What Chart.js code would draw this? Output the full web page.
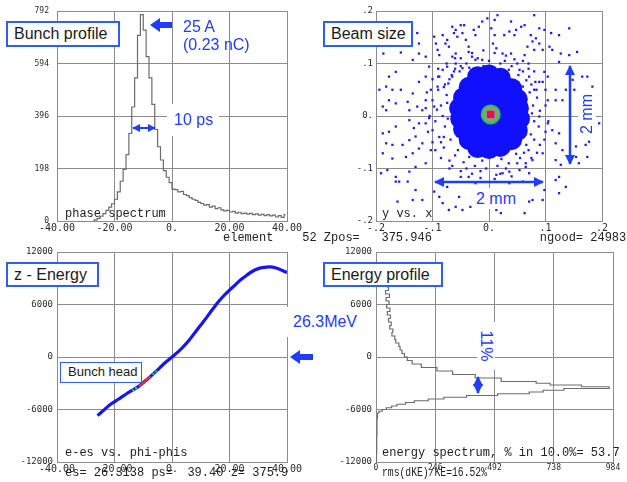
<!DOCTYPE html>
<html>
<head>
<meta charset="utf-8">
<script src="https://cdn.jsdelivr.net/npm/chart.js@4.4.0/dist/chart.umd.min.js"></script>
<style>
  html, body { margin: 0; padding: 0; background: #fff; }
  #wrap { position: relative; width: 627px; height: 482px; overflow: hidden; }
  canvas { position: absolute; }
  svg { position: absolute; left: 0; top: 0; }
  .box { position: absolute; box-sizing: border-box; border: 2px solid #2f5bff; background: #fff;
         font-family: "Liberation Sans", Arial, sans-serif; font-size: 16px; color: #1a1a1a;
         padding-left: 6px; white-space: nowrap; }
  .blue { position: absolute; color: #1f3dff; font-family: "Liberation Sans", Arial, sans-serif;
          font-size: 16px; white-space: nowrap; }
  .mono { position: absolute; font-family: "Liberation Mono", monospace; font-size: 12px;
          line-height: 14px; color: #222; white-space: pre; }
</style>
</head>
<body>
<div id="wrap">
  <canvas id="profileChart" width="310" height="240" style="left:0;top:0"></canvas>
  <canvas id="beamChart" width="303" height="240" style="left:310px;top:0"></canvas>
  <canvas id="zEnergyChart" width="310" height="242" style="left:0;top:240px"></canvas>
  <canvas id="spectrumChart" width="317" height="242" style="left:310px;top:240px"></canvas>

  <div class="mono" style="left:65px;top:207px">phase spectrum</div>
  <div class="mono" style="left:382px;top:207px">y vs. x</div>
  <div class="mono" style="left:223px;top:231px">element    52 Zpos=   375.946               ngood= 24983</div>
  <div class="mono" style="left:65px;top:446px">e-es vs. phi-phis</div>
  <div class="mono" style="left:65px;top:466px">es= 26.3138 ps=  39.40 z= 375.9</div>
  <div class="mono" style="left:382px;top:446px">energy spectrum, % in 10.0%= 53.7</div>
  <div class="mono" style="left:382px;top:466px;transform:scaleX(0.81);transform-origin:left top">rms(dKE)/KE=16.52%</div>

  <div class="box" style="left:6px;top:21px;width:114px;height:26px;line-height:22px">Bunch profile</div>
  <div class="box" style="left:323px;top:21px;width:90px;height:26px;line-height:22px">Beam size</div>
  <div class="box" style="left:6px;top:262px;width:93px;height:25px;line-height:21px">z - Energy</div>
  <div class="box" style="left:323px;top:262px;width:120px;height:25px;line-height:21px">Energy profile</div>
  <div class="box" style="left:60px;top:362px;width:82px;height:21px;line-height:18px;font-size:13px;border-width:1.5px;padding-left:7px">Bunch head</div>

  <div class="blue" style="left:183px;top:18px;line-height:18px">25 A</div>
  <div class="blue" style="left:183px;top:36px;line-height:18px">(0.23 nC)</div>
  <div class="blue" style="left:167px;top:104px;width:52px;height:32px;line-height:32px;padding-left:7px;box-sizing:border-box;background:#fff">10 ps</div>
  <div class="blue" style="left:287px;top:307px;width:75px;height:30px;line-height:30px;padding-left:6px;box-sizing:border-box;background:#fff">26.3MeV</div>
  <div class="blue" style="left:564px;top:105px;width:46px;height:18px;line-height:18px;text-align:center;background:#fff;transform:rotate(-90deg)">2 mm</div>
  <div class="blue" style="left:474px;top:188px;width:44px;height:21px;line-height:21px;text-align:center;background:#fff">2 mm</div>
  <div class="blue" style="left:462px;top:337px;width:48px;height:18px;line-height:18px;text-align:center;background:#fff;transform:rotate(90deg)">11%</div>

  <svg width="627" height="482">
    <defs>
      <marker id="head" viewBox="0 0 10 10" refX="9" refY="5" markerWidth="4" markerHeight="4" orient="auto-start-reverse">
        <path d="M0,0 L10,5 L0,10 z" fill="#1f3dff"/>
      </marker>
    </defs>
    <!-- bunch profile annotations -->
    <path d="M150,25 L160,18 L160,22 L172,22 L172,28 L160,28 L160,32 z" fill="#1f3dff"/>
    <line x1="133" y1="128" x2="155" y2="128" stroke="#1f3dff" stroke-width="2" marker-start="url(#head)" marker-end="url(#head)"/>
    <!-- beam size annotations -->
    <line x1="570" y1="66" x2="570" y2="164" stroke="#1f3dff" stroke-width="2.5" marker-start="url(#head)" marker-end="url(#head)"/>
    <line x1="435" y1="182" x2="543" y2="182" stroke="#1f3dff" stroke-width="2.5" marker-start="url(#head)" marker-end="url(#head)"/>
    <!-- z-energy arrow -->
    <path d="M290,357 L300,350 L300,354 L313,354 L313,360 L300,360 L300,364 z" fill="#1f3dff"/>
    <!-- energy spread arrow -->
    <line x1="478" y1="377" x2="478" y2="393" stroke="#1f3dff" stroke-width="2.5" marker-start="url(#head)" marker-end="url(#head)"/>
  </svg>
</div>

<script>
// ---- Bunch profile (phase spectrum), bin centres in ps ----
const phaseBins = [-27.5, -26.5, -25.5, -24.5, -23.5, -22.5, -21.5, -20.5, -19.5, -18.5, -17.5, -16.5, -15.5,
  -14.5, -13.5, -12.5, -11.5, -10.5, -9.5, -8.5, -7.5, -6.5, -5.5, -4.5, -3.5, -2.5, -1.5, -0.5,
  0.5, 1.5, 2.5, 3.5, 4.5, 5.5, 6.5, 7.5, 8.5, 9.5, 10.5, 11.5, 12.5, 13.5, 14.5, 15.5, 16.5, 17.5,
  18.5, 19.5, 20.5, 21.5, 22.5, 23.5, 24.5, 25.5, 26.5, 27.5, 28.5, 29.5, 30.5, 31.5, 32.5, 33.5,
  34.5, 35.5, 36.5, 37.5, 38.5, 39.5];
const phaseCounts = [0, 4, 10, 18, 28, 40, 52, 65, 82, 110, 150, 195, 250,
  330, 430, 540, 700, 778, 720, 620, 540, 440, 345, 280, 230, 190, 165, 145,
  120, 118, 110, 112, 100, 96, 88, 82, 78, 70, 66, 60, 62, 52, 56, 47, 50, 42,
  38, 40, 34, 36, 30, 33, 28, 30, 26, 29, 24, 27, 22, 25, 20, 24,
  19, 22, 15, 20, 14, 24];
const profileXTicks = [-40, -20, 0, 20, 40];
const profileYTicks = [0, 198, 396, 594, 792];

// ---- Beam size (y vs. x) ----
const haloPts = [
  [-0.187,0.119],[-0.156,0.121],[-0.127,0.158],[-0.124,0.138],[-0.124,0.119],[-0.135,0.107],[-0.112,0.113],
  [-0.097,0.151],[-0.094,0.138],[-0.091,0.126],[-0.088,0.116],[-0.082,0.154],[-0.077,0.138],[-0.074,0.145],
  [-0.065,0.170],[-0.062,0.158],[-0.059,0.164],[-0.056,0.151],[-0.050,0.173],[-0.044,0.173],[-0.047,0.158],
  [-0.041,0.145],[-0.036,0.132],[-0.027,0.164],[-0.024,0.154],[-0.018,0.170],[-0.012,0.180],[-0.003,0.186],
  [-0.030,0.113],[-0.024,0.107],[-0.012,0.107],[-0.036,0.122],[-0.059,0.119],[-0.065,0.113],[-0.071,0.132],
  [-0.106,0.094],[-0.165,0.084],[-0.177,0.075],[-0.194,0.050],[-0.182,0.056],[-0.171,0.050],[-0.156,0.050],
  [-0.144,0.027],[-0.135,0.043],[-0.124,0.065],[-0.112,0.075],[-0.103,0.050],[-0.141,0.011],[-0.165,0.024],
  [-0.177,0.030],[-0.188,0.018],[-0.127,0.018],[-0.112,0.030],[-0.091,0.056],[-0.082,0.088],[-0.074,0.094],
  [-0.065,0.075],[-0.059,0.100],[-0.047,0.091],[-0.088,0.075],[-0.097,0.018],[-0.118,0.011],[-0.182,0.011],
  [0.015,0.192],[0.010,0.183],[0.039,0.180],[0.080,0.192],[0.057,0.170],[0.063,0.173],[0.048,0.164],
  [0.036,0.161],[0.027,0.154],[0.045,0.154],[0.074,0.154],[0.089,0.167],[0.098,0.164],[0.110,0.158],
  [0.124,0.154],[0.142,0.167],[0.077,0.142],[0.083,0.148],[0.089,0.138],[0.068,0.132],[0.080,0.126],
  [0.095,0.126],[0.063,0.116],[0.107,0.132],[0.112,0.126],[0.127,0.119],[0.142,0.116],[0.156,0.122],
  [0.007,0.138],[0.013,0.129],[0.024,0.119],[0.039,0.119],[0.004,0.167],[0.010,0.154],[0.124,0.103],
  [0.104,0.075],[0.118,0.050],[0.098,0.084],[0.089,0.065],[0.071,0.075],[0.080,0.050],[0.054,0.088],
  [0.060,0.056],[0.104,0.030],[0.118,0.030],[0.130,0.030],[0.136,0.050],[0.148,0.069],[0.165,0.075],
  [0.174,0.075],[0.183,0.056],[0.151,0.050],
  [-0.188,-0.033],[-0.177,-0.030],[-0.165,-0.020],[-0.182,-0.052],[-0.171,-0.055],[-0.153,-0.055],
  [-0.141,-0.046],[-0.130,-0.039],[-0.188,-0.071],[-0.171,-0.081],[-0.147,-0.078],[-0.135,-0.071],
  [-0.124,-0.062],[-0.118,-0.052],[-0.180,-0.103],[-0.191,-0.109],[-0.165,-0.116],[-0.141,-0.106],
  [-0.130,-0.097],[-0.112,-0.090],[-0.103,-0.065],[-0.100,-0.027],[-0.165,-0.125],[-0.159,-0.125],
  [-0.144,-0.125],[-0.130,-0.141],[-0.135,-0.160],[-0.162,-0.163],[-0.118,-0.160],[-0.097,-0.144],
  [-0.088,-0.154],[-0.082,-0.166],[-0.071,-0.179],[-0.059,-0.173],[-0.053,-0.154],[-0.074,-0.135],
  [-0.082,-0.122],[-0.050,-0.116],[-0.036,-0.116],[-0.024,-0.128],[-0.047,-0.179],[-0.033,-0.173],
  [-0.112,-0.014],[-0.106,-0.004],[-0.124,-0.014],[-0.141,-0.008],[-0.133,-0.023],
  [0.089,-0.001],[0.104,-0.014],[0.112,-0.027],[0.124,-0.033],[0.118,-0.052],[0.130,-0.065],[0.154,-0.058],
  [0.171,-0.055],[0.177,-0.049],[0.195,-0.014],[0.174,-0.078],[0.154,-0.078],[0.159,-0.090],[0.118,-0.084],
  [0.127,-0.093],[0.095,-0.071],[0.077,-0.084],[0.065,-0.097],[0.054,-0.103],[0.071,-0.109],[0.036,-0.106],
  [0.024,-0.109],[0.013,-0.112],[0.124,-0.116],[0.118,-0.122],[0.136,-0.135],[0.124,-0.147],[0.098,-0.141],
  [0.095,-0.160],[0.077,-0.160],[0.071,-0.163],[0.063,-0.185],[0.021,-0.185],[0.013,-0.179],[0.060,-0.125],
  [0.036,-0.128],
  [-0.090,0.050],[-0.085,0.020],[-0.095,-0.010],[-0.088,-0.040],[-0.080,-0.060],[-0.070,0.070],[-0.060,0.090],
  [-0.040,0.100],[-0.020,0.110],[0.000,0.105],[0.020,0.100],[0.040,0.095],[0.060,0.085],[0.075,0.060],
  [0.085,0.035],[0.090,0.010],[0.088,-0.020],[0.080,-0.045],[0.070,-0.065],[0.055,-0.080],[0.035,-0.090],
  [0.015,-0.095],[-0.005,-0.100],[-0.025,-0.095],[-0.045,-0.088],[-0.060,-0.075],[-0.075,0.040],[-0.078,-0.020],
  [0.078,0.020],[0.080,-0.010],[-0.050,0.095],[0.030,-0.100],[-0.100,0.030],[0.100,0.050],[0.100,-0.030],
  [-0.030,-0.110],[0.050,0.100],[-0.090,0.075],[0.070,0.090],[-0.065,-0.095],
  [-0.100,0.070],[-0.105,0.000],[-0.100,-0.050],[-0.085,-0.080],[-0.070,-0.100],[-0.050,-0.105],[-0.015,-0.118],
  [0.010,-0.120],[0.040,-0.115],[0.065,-0.090],[0.085,-0.070],[0.098,-0.045],[0.105,-0.010],[0.100,0.020],
  [0.095,0.065],[0.080,0.085],[0.060,0.105],[0.030,0.115],[0.010,0.120],[-0.010,0.125],[-0.030,0.120],
  [-0.050,0.110],[-0.075,0.100],[-0.090,0.090],[-0.110,0.045],[-0.112,0.015],[-0.108,-0.030],[-0.095,-0.065],
  [-0.080,-0.040],[-0.082,0.000],[-0.080,0.055],[0.084,0.050],[0.090,-0.055],[-0.060,0.110],[0.020,-0.110],
  [-0.040,-0.100],[0.045,0.108],[0.070,0.100],[-0.070,-0.085],[0.075,-0.080],
  [-0.072,0.062],[-0.066,0.078],[-0.052,0.085],[-0.035,0.092],[0.035,0.088],[0.052,0.078],[0.066,0.068],
  [0.072,0.045],[0.076,0.005],[0.074,-0.035],[0.066,-0.055],[0.048,-0.072],[0.022,-0.082],[-0.012,-0.085],
  [-0.035,-0.078],[-0.055,-0.065],[-0.068,-0.045],[-0.073,-0.005],[-0.074,0.025],[-0.062,0.085],[0.010,0.092],
  [-0.010,0.095],[0.062,-0.070],[-0.078,0.060],[0.082,0.065],[-0.085,-0.050],[0.050,-0.090],[-0.015,-0.105],
  [0.028,0.105],[-0.092,0.012]
];
// dense core cells
const corePts = [
  [-0.020,0.075],[0.000,0.078],[0.020,0.072],
  [-0.035,0.055],[-0.015,0.055],[0.005,0.055],[0.025,0.055],[0.040,0.052],
  [-0.045,0.035],[-0.025,0.035],[-0.005,0.035],[0.015,0.035],[0.035,0.035],[0.050,0.032],
  [-0.052,0.015],[-0.030,0.015],[-0.010,0.015],[0.010,0.015],[0.030,0.015],[0.052,0.015],
  [-0.050,-0.005],[-0.030,-0.005],[-0.010,-0.005],[0.010,-0.005],[0.030,-0.005],[0.054,-0.005],
  [-0.045,-0.025],[-0.025,-0.025],[-0.005,-0.025],[0.015,-0.025],[0.035,-0.025],[0.050,-0.028],
  [-0.035,-0.045],[-0.015,-0.045],[0.005,-0.045],[0.025,-0.045],[0.040,-0.045],
  [-0.020,-0.060],[0.000,-0.062],[0.020,-0.058]
];
const centrePt = [[0.003, 0.003]];
const beamTicks = [-0.2, -0.1, 0, 0.1, 0.2];

// ---- z - Energy ----
const zPhase = [-25.9, -24, -21.6, -18.5, -15.8, -13, -11.2, -9, -6.6, -4, -2, 0, 2, 4, 6, 8, 10, 12, 14,
  16, 18, 20, 22, 24, 26, 28, 30, 32, 34, 36, 38, 40];
const zEnergy = [-6700, -6150, -5450, -4800, -4200, -3650, -3250, -2650, -1950, -1150, -550, 0, 550, 1200,
  1950, 2800, 3650, 4500, 5400, 6250, 7000, 7650, 8250, 8850, 9350, 9800, 10100, 10250, 10300, 10200,
  9950, 9650];
const headPhase = [-11.5, -10.5, -9.5, -8.5, -7.5];
const headEnergy = [-3330, -3080, -2800, -2480, -2200];
const headEdgePhase = [-13.5, -12.5, -6.5, -5.5];
const headEdgeEnergy = [-3800, -3550, -1920, -1650];
const energyTicks = [-12000, -6000, 0, 6000, 12000];

// ---- Energy profile (spectrum), energy bins vs counts ----
const specEnergy = [8400, 8000, 7600, 7200, 6800, 6400, 6000, 5600, 5200, 4800, 4400, 4000, 3600, 3200,
  2800, 2400, 2000, 1600, 1200, 800, 400, 0, -400, -800, -1200, -1600, -2000, -2400, -2800, -3000,
  -3200, -3400, -3600, -3800, -4000, -4200, -4400, -4600, -4800, -5000, -5200, -5400, -5600, -5800,
  -6000, -6200, -6400, -7000, -8000, -9000, -10000, -11000, -12000];
const specCounts = [45, 52, 40, 56, 42, 54, 44, 58, 47, 60, 52, 63, 57, 70,
  66, 78, 82, 95, 100, 108, 118, 130, 150, 188, 253, 318, 412, 520, 665, 723,
  853, 968, 780, 694, 636, 505, 376, 282, 217, 159, 123, 87, 65, 43,
  26, 12, 6, 4, 4, 3, 3, 2, 2];
const countTicks = [0, 246, 492, 738, 984];

const gridCol = '#8c8c8c';
const tickCol = '#2a2a2a';
const tickFamily = '"DejaVu Sans Mono", monospace';

function fixedTicks(list) {
  return function(scale) { scale.ticks = list.map(v => ({ value: v })); };
}

function plotOptions(o) {
  return {
    responsive: false,
    animation: false,
    events: [],
    layout: { padding: { top: o.top, right: o.right, left: 0, bottom: 0 } },
    plugins: { legend: { display: false }, tooltip: { enabled: false } },
    scales: {
      x: {
        type: 'linear',
        min: o.xTicks[0],
        max: o.xTicks[o.xTicks.length - 1],
        afterBuildTicks: fixedTicks(o.xTicks),
        afterFit: function(s) { s.height = o.xH; s.paddingLeft = 0; s.paddingRight = 0; },
        ticks: { callback: o.xFmt, font: { family: tickFamily, size: o.xSize }, color: tickCol,
                 padding: 1, maxRotation: 0, autoSkip: false },
        grid: { color: gridCol, drawTicks: false },
        border: { color: gridCol }
      },
      y: {
        type: 'linear',
        min: o.yTicks[0],
        max: o.yTicks[o.yTicks.length - 1],
        afterBuildTicks: fixedTicks(o.yTicks),
        afterFit: function(s) { s.width = o.yW; s.paddingTop = 0; s.paddingBottom = 0; },
        ticks: { callback: o.yFmt, font: { family: tickFamily, size: o.ySize }, color: tickCol,
                 padding: o.yPad, autoSkip: false },
        grid: { color: gridCol, drawTicks: false },
        border: { color: gridCol }
      }
    }
  };
}

const fmtPhase = v => (v === 0 ? '0.' : v.toFixed(2));
const fmtPlain = v => String(v);
const fmtTenth = v => (v === 0 ? '0.' : (v < 0 ? '-' : '') + '.' + Math.round(Math.abs(v) * 10));

// Bunch profile
new Chart(document.getElementById('profileChart'), {
  type: 'line',
  data: {
    datasets: [{
      data: phaseBins.map((x, i) => ({ x: x, y: phaseCounts[i] })),
      borderColor: '#6c6c6c',
      borderWidth: 1.2,
      pointRadius: 0,
      stepped: 'middle',
      fill: false
    }]
  },
  options: plotOptions({ top: 11, right: 23, xH: 19, yW: 57, xTicks: profileXTicks, yTicks: profileYTicks,
    xFmt: fmtPhase, yFmt: fmtPlain, xSize: 10, ySize: 8, yPad: 8 })
});

// Beam size
new Chart(document.getElementById('beamChart'), {
  type: 'scatter',
  data: {
    datasets: [
      { data: centrePt.map(p => ({ x: p[0], y: p[1] })), pointStyle: 'rect', pointRadius: 4.5,
        backgroundColor: '#e3124a', borderColor: '#c40f8a', borderWidth: 1 },
      { data: centrePt.map(p => ({ x: p[0], y: p[1] })), pointStyle: 'circle', pointRadius: 9,
        backgroundColor: '#8e9a86', borderColor: '#1fd12a', borderWidth: 2 },
      { data: corePts.map(p => ({ x: p[0], y: p[1] })), pointStyle: 'circle', pointRadius: 10.5,
        backgroundColor: '#1010ff', borderWidth: 0 },
      { data: haloPts.map(p => ({ x: p[0], y: p[1] })), pointStyle: 'rect', pointRadius: 1.6,
        backgroundColor: '#1a1aff', borderWidth: 0 }
    ]
  },
  options: plotOptions({ top: 11, right: 10, xH: 19, yW: 66, xTicks: beamTicks, yTicks: beamTicks,
    xFmt: fmtTenth, yFmt: fmtTenth, xSize: 10, ySize: 9, yPad: 3 })
});

// z - Energy
new Chart(document.getElementById('zEnergyChart'), {
  type: 'line',
  data: {
    datasets: [
      { data: headPhase.map((x, i) => ({ x: x, y: headEnergy[i] })), borderColor: '#ff2a2a',
        borderWidth: 2, pointRadius: 0 },
      { data: headEdgePhase.map((x, i) => ({ x: x, y: headEdgeEnergy[i] })), showLine: false,
        pointStyle: 'rect', pointRadius: 1.5, backgroundColor: '#22dd22', borderWidth: 0 },
      { data: zPhase.map((x, i) => ({ x: x, y: zEnergy[i] })), borderColor: '#1414ff',
        borderWidth: 3.2, pointRadius: 0, tension: 0.3 }
    ]
  },
  options: plotOptions({ top: 12, right: 23, xH: 20, yW: 57, xTicks: profileXTicks, yTicks: energyTicks,
    xFmt: fmtPhase, yFmt: fmtPlain, xSize: 10, ySize: 9, yPad: 4 })
});

// Energy profile
new Chart(document.getElementById('spectrumChart'), {
  type: 'line',
  data: {
    datasets: [{
      data: specEnergy.map((e, i) => ({ x: specCounts[i], y: e })),
      borderColor: '#6c6c6c',
      borderWidth: 1.2,
      pointRadius: 0,
      stepped: 'after',
      fill: false
    }]
  },
  options: plotOptions({ top: 12, right: 14, xH: 20, yW: 66, xTicks: countTicks, yTicks: energyTicks,
    xFmt: fmtPlain, yFmt: fmtPlain, xSize: 8, ySize: 9, yPad: 4 })
});
</script>
</body>
</html>
